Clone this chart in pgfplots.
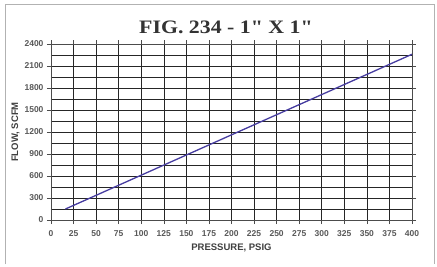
\documentclass[border=0pt]{standalone}
\usepackage{pgfplots}
\pgfplotsset{compat=1.18}
\usepackage{fontspec}
\setmainfont{Liberation Sans}
\newfontfamily\titlefont[FakeStretch=1.15]{Liberation Serif}
\begin{document}
\begin{tikzpicture}[x=1pt,y=1pt]
\useasboundingbox (0,0) rectangle (437,266);
\fill[white] (0,0) rectangle (437,266);
\draw[gray!60, line width=0.8pt] (5,2) -- (5,262) -- (434,262) -- (434,2);
\node[font=\titlefont\bfseries\fontsize{19}{21}\selectfont, text=black!80] at (226,239) {FIG. 234 - 1" X 1"};
\begin{axis}[
  at={(51pt,46pt)}, anchor=south west,
  scale only axis, width=361pt, height=176pt,
  xmin=0, xmax=400, ymin=0, ymax=2400,
  xtick={0,25,...,400},
  ytick={0,300,...,2400},
  minor ytick={150,450,...,2250},
  grid=both,
  major grid style={black!85, line width=0.6pt},
  minor grid style={black!85, line width=0.6pt},
  axis line style={black!70, line width=0.6pt},
  tick style={black!70, line width=0.6pt},
  tick align=outside, major tick length=4pt, minor tick length=0pt,
  ticklabel style={font=\bfseries\fontsize{8.5}{10}\selectfont, text=black!65},
  xticklabel style={yshift=-3pt},
  /pgf/number format/assume math mode=true,
  /pgf/number format/1000 sep={},
  xlabel={PRESSURE, PSIG},
  ylabel={FLOW, SCFM},
  label style={font=\bfseries\fontsize{9.5}{11}\selectfont, text=black!75},
  xlabel style={yshift=0pt},
  ylabel style={yshift=-2pt},
]
\addplot[color={rgb,255:red,70;green,60;blue,160}, line width=1.3pt] coordinates {(16,150) (400,2260)};
\end{axis}
\end{tikzpicture}
\end{document}
